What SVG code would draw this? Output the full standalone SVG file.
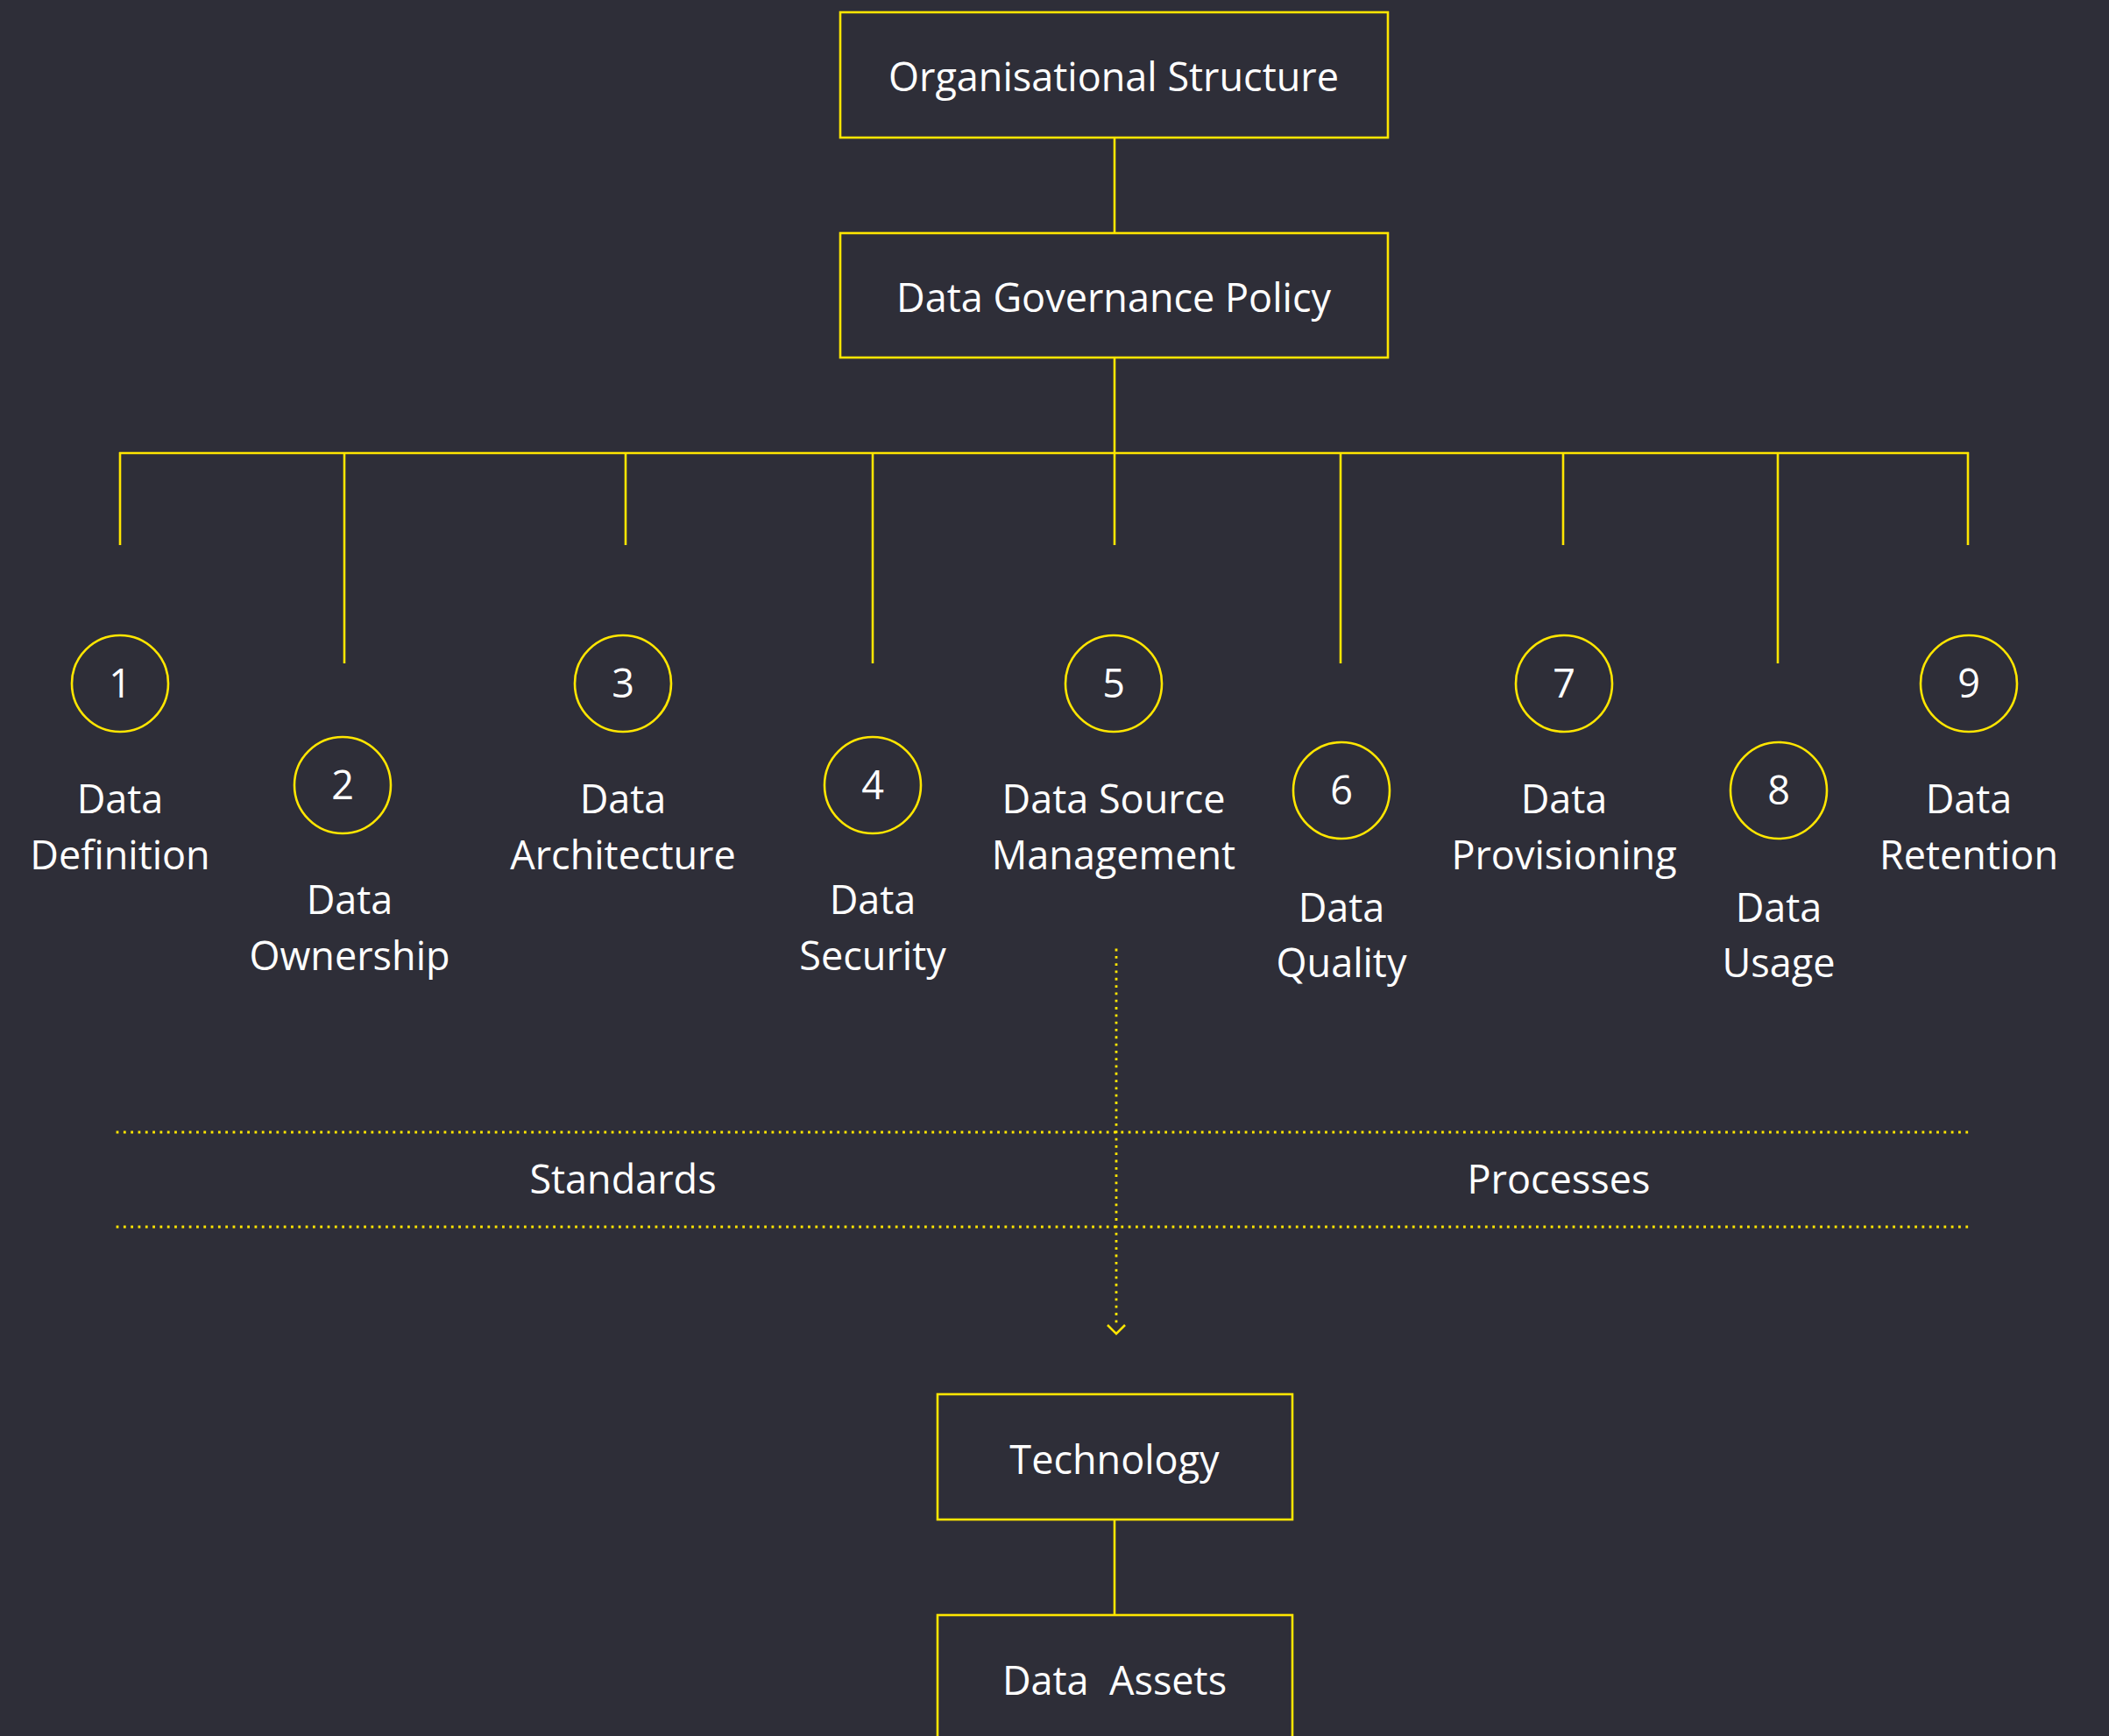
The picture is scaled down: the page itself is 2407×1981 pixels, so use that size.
<svg xmlns="http://www.w3.org/2000/svg" width="2407" height="1981" viewBox="0 0 2407 1981">
<style>
.bg{fill:#2e2e38}
.box{fill:none;stroke:#ffe600;stroke-width:2.6}
.ln{fill:none;stroke:#ffe600;stroke-width:2.6}
.dot{fill:none;stroke:#ffe600;stroke-width:2.8;stroke-dasharray:0.01 8.3;stroke-linecap:square}
.circ{fill:none;stroke:#ffe600;stroke-width:2.6}
.t{fill:#ffffff;font-family:"Open Sans","Noto Sans","Liberation Sans",sans-serif;font-size:45px;text-anchor:middle}
</style>
<rect class="bg" x="0" y="0" width="2407" height="1981"/>

<g id="connectors">
  <line class="ln" x1="1272" y1="157" x2="1272" y2="266"/>
  <line class="ln" x1="1272" y1="408" x2="1272" y2="517"/>
  <line class="ln" x1="136" y1="517" x2="2247" y2="517"/>
  <line class="ln" x1="137" y1="516" x2="137" y2="622"/>
  <line class="ln" x1="393" y1="517" x2="393" y2="757"/>
  <line class="ln" x1="714" y1="517" x2="714" y2="622"/>
  <line class="ln" x1="996" y1="517" x2="996" y2="757"/>
  <line class="ln" x1="1272" y1="517" x2="1272" y2="622"/>
  <line class="ln" x1="1530" y1="517" x2="1530" y2="757"/>
  <line class="ln" x1="1784" y1="517" x2="1784" y2="622"/>
  <line class="ln" x1="2029" y1="517" x2="2029" y2="757"/>
  <line class="ln" x1="2246" y1="516" x2="2246" y2="622"/>
  <line class="dot" x1="1274" y1="1084" x2="1274" y2="1516"/>
  <polyline class="ln" points="1264,1512 1274,1522 1284,1512"/>
  <line class="dot" x1="134" y1="1292" x2="2250" y2="1292"/>
  <line class="dot" x1="134" y1="1400" x2="2250" y2="1400"/>
  <line class="ln" x1="1272" y1="1734" x2="1272" y2="1843"/>
</g>

<g id="node-org-structure">
  <rect class="box" x="959" y="14" width="625" height="143"/>
  <text class="t" x="1271" y="104">Organisational Structure</text>
</g>
<g id="node-policy">
  <rect class="box" x="959" y="266" width="625" height="142"/>
  <text class="t" x="1271" y="356">Data Governance Policy</text>
</g>

<g id="node-1">
  <circle class="circ" cx="137" cy="780" r="55"/>
  <text class="t" x="137" y="796">1</text>
  <text class="t" x="137" y="928">Data</text>
  <text class="t" x="137" y="992">Definition</text>
</g>
<g id="node-2">
  <circle class="circ" cx="391" cy="896" r="55"/>
  <text class="t" x="391" y="912">2</text>
  <text class="t" x="399" y="1043">Data</text>
  <text class="t" x="399" y="1107">Ownership</text>
</g>
<g id="node-3">
  <circle class="circ" cx="711" cy="780" r="55"/>
  <text class="t" x="711" y="796">3</text>
  <text class="t" x="711" y="928">Data</text>
  <text class="t" x="711" y="992">Architecture</text>
</g>
<g id="node-4">
  <circle class="circ" cx="996" cy="896" r="55"/>
  <text class="t" x="996" y="912">4</text>
  <text class="t" x="996" y="1043">Data</text>
  <text class="t" x="996" y="1107">Security</text>
</g>
<g id="node-5">
  <circle class="circ" cx="1271" cy="780" r="55"/>
  <text class="t" x="1271" y="796">5</text>
  <text class="t" x="1271" y="928">Data Source</text>
  <text class="t" x="1271" y="992">Management</text>
</g>
<g id="node-6">
  <circle class="circ" cx="1531" cy="902" r="55"/>
  <text class="t" x="1531" y="918">6</text>
  <text class="t" x="1531" y="1052">Data</text>
  <text class="t" x="1531" y="1115">Quality</text>
</g>
<g id="node-7">
  <circle class="circ" cx="1785" cy="780" r="55"/>
  <text class="t" x="1785" y="796">7</text>
  <text class="t" x="1785" y="928">Data</text>
  <text class="t" x="1785" y="992">Provisioning</text>
</g>
<g id="node-8">
  <circle class="circ" cx="2030" cy="902" r="55"/>
  <text class="t" x="2030" y="918">8</text>
  <text class="t" x="2030" y="1052">Data</text>
  <text class="t" x="2030" y="1115">Usage</text>
</g>
<g id="node-9">
  <circle class="circ" cx="2247" cy="780" r="55"/>
  <text class="t" x="2247" y="796">9</text>
  <text class="t" x="2247" y="928">Data</text>
  <text class="t" x="2247" y="992">Retention</text>
</g>

<g id="label-standards">
  <text class="t" x="711" y="1362">Standards</text>
</g>
<g id="label-processes">
  <text class="t" x="1779" y="1362">Processes</text>
</g>

<g id="node-technology">
  <rect class="box" x="1070" y="1591" width="405" height="143"/>
  <text class="t" x="1272" y="1682">Technology</text>
</g>
<g id="node-data-assets">
  <rect class="box" x="1070" y="1843" width="405" height="150"/>
  <text class="t" x="1272" y="1934" xml:space="preserve">Data  Assets</text>
</g>
</svg>
